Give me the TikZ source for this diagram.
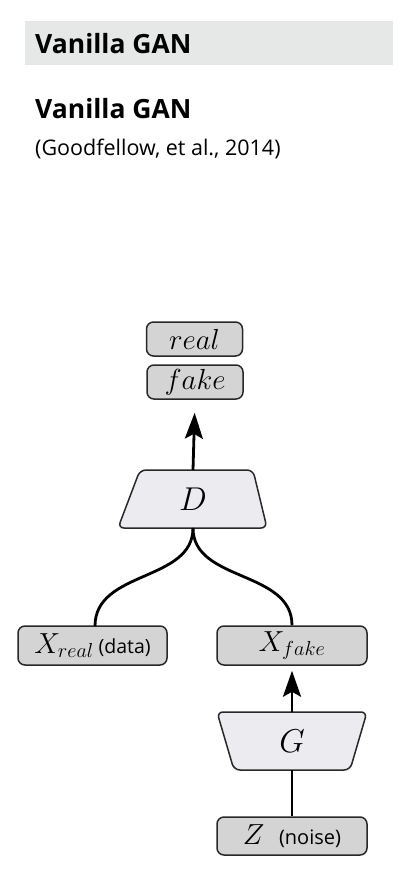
\documentclass[tikz,border=0pt]{standalone}
\usepackage{fix-cm}
\usepackage{fontspec}
\newfontfamily\hdfont{Open Sans}
\usetikzlibrary{arrows.meta}
\definecolor{barfill}{RGB}{230,231,231}
\definecolor{boxfill}{RGB}{212,212,212}
\definecolor{trapfill}{RGB}{236,236,240}
\definecolor{edge}{RGB}{40,40,40}
\begin{document}
\begin{tikzpicture}[x=1pt,y=-1pt,
  >={Stealth[length=26pt,width=18pt,inset=5pt]},
  lbox/.style={draw=edge,line width=1.5pt,fill=boxfill,rounded corners=7pt,inner sep=0pt},
  trap/.style={draw=edge,line width=1.5pt,fill=trapfill,rounded corners=6pt},
  conn/.style={line width=2.8pt,black},
  mlab/.style={font=\fontsize{29}{32}\selectfont},
  bigm/.style={font=\fontsize{33}{36}\selectfont}]
\useasboundingbox (0,0) rectangle (406,888);
% header
\fill[barfill] (25,21) rectangle (393,65);
\node[anchor=base west,inner sep=0pt,font=\hdfont\bfseries\fontsize{26.5}{30}\selectfont] (hdr) at (35,54) {Vanilla GAN};
\node[anchor=base west,inner sep=0pt,font=\hdfont\bfseries\fontsize{26.5}{30}\selectfont] (ttl) at (35,119) {Vanilla GAN};
\node[anchor=base west,inner sep=0pt,font=\hdfont\fontsize{21.5}{24}\selectfont] (cit) at (35,155) {(Goodfellow, et al., 2014)};
% outputs
\node[lbox,minimum width=96pt,minimum height=34pt,mlab] (real) at (194.5,339) {$real$};
\node[lbox,minimum width=96pt,minimum height=34pt,mlab] (fake) at (195,382) {$fake$};
% D
\draw[trap] (140,470) -- (253,470) -- (267,528) -- (118,528) -- cycle;
\node[bigm] (D) at (193,499) {$D$};
\coordinate (Dtop) at (193,470);
\coordinate (Dbot) at (193,528);
% G
\draw[trap] (217,712) -- (367,712) -- (350,770) -- (234,770) -- cycle;
\node[bigm] (G) at (292,741) {$G$};
\coordinate (Gtop) at (292,712);
\coordinate (Gbot) at (292,770);
% inputs
\node[lbox,minimum width=149pt,minimum height=39pt,mlab] (xreal) at (92.5,645.5) {$X_{real}$\,{\hdfont\fontsize{19.5}{22}\selectfont(data)}};
\node[lbox,minimum width=150pt,minimum height=39pt,mlab] (xfake) at (292,645.5) {$X_{fake}$};
\node[lbox,minimum width=150pt,minimum height=38pt,mlab] (z) at (292,836) {$Z$\enspace{\hdfont\fontsize{20}{22}\selectfont(noise)}};
\coordinate (xrtop) at (95,626);
% connectors
\draw[conn,->,shorten >=13pt] (Dtop) -- (fake.south);
\draw[conn] (Dbot) .. controls (193,582) and (95,570) .. (xrtop);
\draw[conn] (Dbot) .. controls (193,582) and (292,570) .. (xfake.north);
\draw[conn,->,shorten >=5pt] (Gtop) -- (xfake.south);
\draw[conn] (z.north) -- (Gbot);
\end{tikzpicture}
\end{document}
